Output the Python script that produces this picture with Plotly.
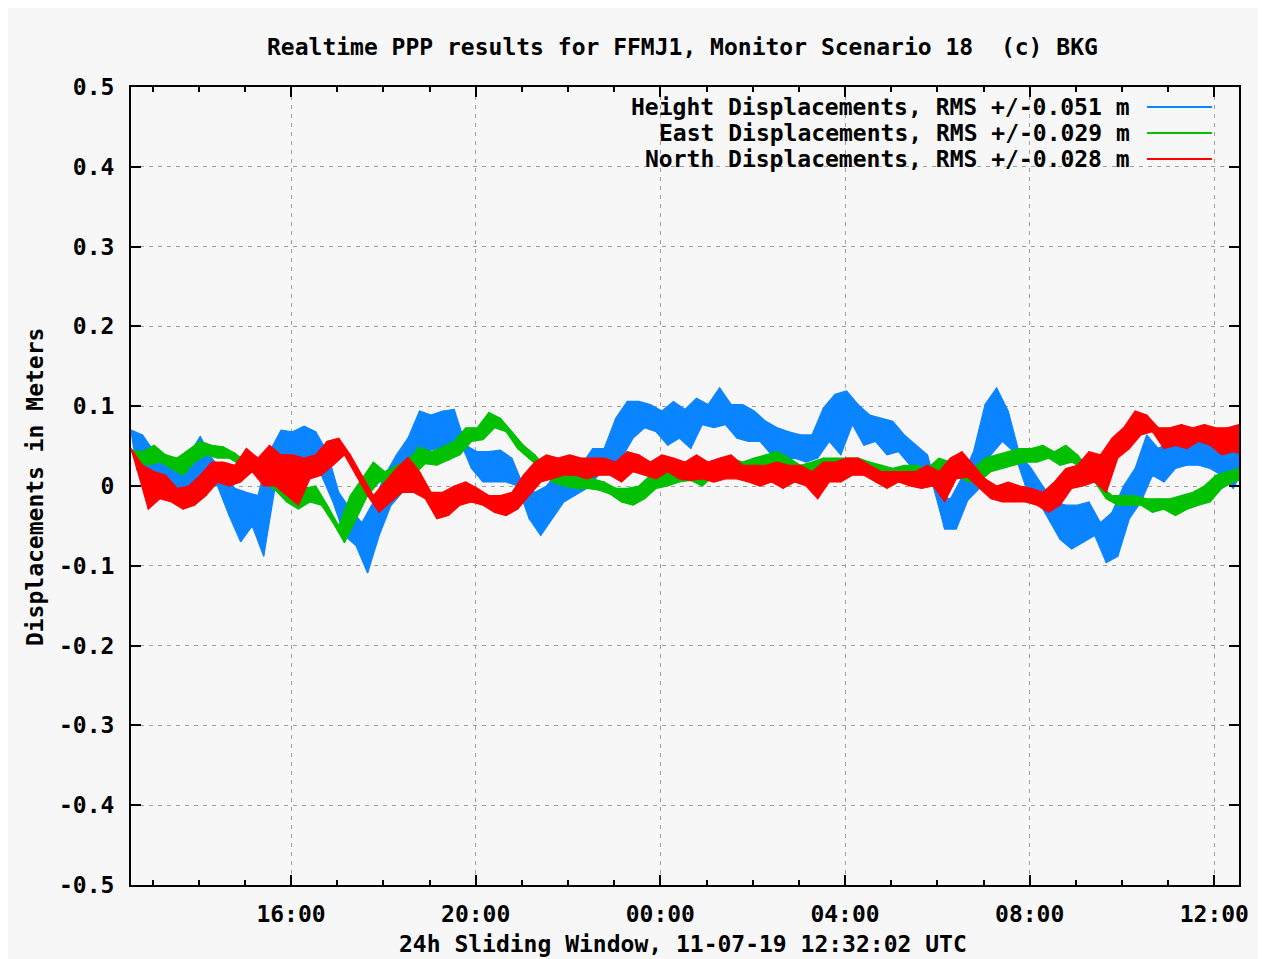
import pandas as pd
import plotly.graph_objects as go

# ---- data (15-minute steps, upper / lower envelope) ----
START = "2019-07-10 12:32:02"
END = "2019-07-11 12:32:02"
STEP = "15min"

H_HI = [0.070, 0.064, 0.043, 0.039, 0.030, 0.039, 0.062, 0.035, 0.018, -0.003, -0.008, -0.012, 0.043, 0.070, 0.068, 0.075, 0.068, 0.043, -0.008, -0.029, -0.046, -0.020, 0.0135, 0.039,
        0.060, 0.094, 0.089, 0.094, 0.096, 0.051, 0.043, 0.043, 0.045, 0.035, 0.000, -0.008, 0.000, 0.018, 0.018, 0.026, 0.047, 0.047, 0.085, 0.106, 0.106, 0.102, 0.094, 0.106,
        0.096, 0.110, 0.102, 0.123, 0.102, 0.102, 0.094, 0.081, 0.073, 0.068, 0.064, 0.064, 0.098, 0.115, 0.119, 0.102, 0.089, 0.085, 0.081, 0.064, 0.051, 0.039, -0.012, -0.016,
        0.011, 0.043, 0.102, 0.123, 0.094, 0.039, 0.022, 0.000, -0.020, -0.024, -0.024, -0.020, -0.046, -0.033, 0.000, 0.022, 0.064, 0.047, 0.056, 0.077, 0.064, 0.060, 0.043, 0.073,
        0.056]
H_LO = [0.020, 0.0135, 0.000, -0.003, -0.003, 0.000, 0.005, 0.000, -0.037, -0.070, -0.050, -0.088, 0.000, 0.018, 0.022, 0.022, 0.0135, -0.020, -0.062, -0.075, -0.109, -0.062, -0.025, -0.008,
        0.016, 0.043, 0.047, 0.051, 0.056, 0.022, 0.005, 0.005, 0.005, 0.000, -0.041, -0.062, -0.041, -0.020, -0.012, -0.003, 0.0135, 0.018, 0.035, 0.060, 0.073, 0.068, 0.051, 0.060,
        0.047, 0.077, 0.073, 0.077, 0.060, 0.056, 0.056, 0.039, 0.030, 0.035, 0.030, 0.035, 0.056, 0.039, 0.077, 0.051, 0.056, 0.039, 0.043, 0.026, 0.022, 0.000, -0.054, -0.054,
        -0.018, -0.003, 0.039, 0.056, 0.043, 0.000, -0.016, -0.041, -0.067, -0.079, -0.071, -0.062, -0.096, -0.088, -0.041, -0.020, 0.0135, 0.005, 0.022, 0.026, 0.026, 0.022, 0.0135, -0.003,
        0.026]
E_HI = [0.045, 0.043, 0.051, 0.039, 0.035, 0.045, 0.056, 0.051, 0.049, 0.041, 0.030, 0.026, 0.0135, 0.000, -0.003, -0.003, 0.000, -0.024, -0.050, -0.012, 0.009, 0.030, 0.018, 0.026,
        0.033, 0.049, 0.043, 0.049, 0.056, 0.073, 0.073, 0.092, 0.085, 0.068, 0.051, 0.039, 0.022, 0.018, 0.0135, 0.009, 0.009, 0.005, -0.003, -0.003, 0.000, 0.0135, 0.018, 0.026,
        0.024, 0.022, 0.026, 0.030, 0.035, 0.030, 0.035, 0.039, 0.043, 0.035, 0.026, 0.030, 0.035, 0.035, 0.035, 0.035, 0.030, 0.026, 0.022, 0.026, 0.026, 0.022, 0.035, 0.030,
        0.020, 0.022, 0.035, 0.039, 0.043, 0.047, 0.047, 0.051, 0.043, 0.051, 0.039, 0.022, 0.000, -0.012, -0.012, -0.012, -0.016, -0.016, -0.016, -0.012, -0.008, 0.000, 0.0135, 0.018,
        0.022]
E_LO = [0.030, 0.026, 0.030, 0.022, 0.0135, 0.030, 0.039, 0.035, 0.035, 0.026, 0.018, 0.005, -0.005, -0.020, -0.029, -0.020, -0.024, -0.046, -0.071, -0.041, -0.012, 0.005, 0.005, 0.005,
        0.0135, 0.028, 0.026, 0.032, 0.039, 0.056, 0.058, 0.073, 0.068, 0.047, 0.035, 0.022, 0.005, 0.000, -0.003, -0.003, -0.005, -0.010, -0.020, -0.024, -0.016, -0.003, 0.000, 0.005,
        0.007, 0.000, 0.0135, 0.0135, 0.018, 0.018, 0.018, 0.022, 0.026, 0.018, 0.0135, 0.018, 0.022, 0.018, 0.022, 0.018, 0.018, 0.0135, 0.009, 0.0135, 0.0135, 0.005, 0.018, 0.0135,
        0.005, 0.005, 0.018, 0.022, 0.026, 0.030, 0.030, 0.035, 0.026, 0.030, 0.022, 0.005, -0.016, -0.024, -0.024, -0.024, -0.033, -0.029, -0.037, -0.029, -0.024, -0.020, -0.003, 0.005,
        0.009]
N_HI = [0.047, 0.026, 0.018, 0.0135, -0.003, 0.000, 0.0135, 0.030, 0.030, 0.026, 0.047, 0.035, 0.051, 0.039, 0.039, 0.035, 0.039, 0.056, 0.060, 0.039, 0.0135, -0.012, 0.005, 0.022,
        0.036, 0.018, -0.008, -0.008, 0.000, 0.005, -0.003, -0.012, -0.012, -0.008, 0.0135, 0.030, 0.039, 0.035, 0.039, 0.035, 0.035, 0.035, 0.030, 0.043, 0.039, 0.030, 0.039, 0.035,
        0.030, 0.039, 0.030, 0.035, 0.039, 0.026, 0.026, 0.026, 0.030, 0.026, 0.026, 0.018, 0.030, 0.030, 0.035, 0.035, 0.026, 0.018, 0.018, 0.018, 0.018, 0.026, 0.018, 0.035,
        0.043, 0.026, 0.009, 0.000, 0.005, 0.000, -0.003, -0.008, 0.005, 0.022, 0.026, 0.043, 0.039, 0.060, 0.073, 0.094, 0.089, 0.073, 0.073, 0.077, 0.073, 0.077, 0.073, 0.073,
        0.077]
N_LO = [0.022, -0.029, -0.016, -0.020, -0.029, -0.024, -0.012, 0.005, 0.000, 0.005, 0.018, 0.000, 0.000, -0.012, -0.024, 0.009, 0.0135, 0.026, 0.039, 0.0135, -0.012, -0.033, -0.020, -0.008,
        -0.008, -0.016, -0.041, -0.037, -0.024, -0.020, -0.024, -0.033, -0.037, -0.029, -0.012, 0.005, 0.009, 0.0135, 0.0135, 0.009, 0.0135, 0.0135, 0.005, 0.018, 0.0135, 0.009, 0.018, 0.009,
        0.007, 0.009, 0.005, 0.009, 0.009, 0.005, 0.000, 0.005, -0.003, 0.005, 0.000, -0.016, 0.005, 0.005, 0.0135, 0.0135, 0.005, -0.003, 0.005, 0.000, -0.003, 0.000, -0.020, 0.009,
        0.011, -0.003, -0.016, -0.020, -0.020, -0.020, -0.024, -0.033, -0.024, -0.003, 0.000, 0.005, -0.008, 0.035, 0.047, 0.064, 0.068, 0.047, 0.051, 0.047, 0.056, 0.051, 0.039, 0.043,
        0.039]

SERIES_NAMES = ["Height Displacements, RMS +/-0.051 m",
                "East Displacements, RMS +/-0.029 m",
                "North Displacements, RMS +/-0.028 m"]
SERIES_COLORS = ["#0a84ff", "#00c000", "#ff0000"]

Y_TICKS = [0.5, 0.4, 0.3, 0.2, 0.1, 0, -0.1, -0.2, -0.3, -0.4, -0.5]
Y_TICK_TEXT = ["0.5", "0.4", "0.3", "0.2", "0.1", "0", "-0.1", "-0.2", "-0.3", "-0.4", "-0.5"]

TITLE = "Realtime PPP results for FFMJ1, Monitor Scenario 18  (c) BKG"
X_TITLE = "24h Sliding Window, 11-07-19 12:32:02 UTC"
Y_TITLE = "Displacements in Meters"

for arr in (H_HI, H_LO, E_HI, E_LO, N_HI, N_LO):
    assert len(arr) == 97, len(arr)

times = list(pd.date_range(START, periods=97, freq=STEP))
half = pd.Timedelta(STEP) / 2

FONT = "DejaVu Sans Mono"
FS = 23
fig = go.Figure()
for (hi, lo), name, col in zip([(H_HI, H_LO), (E_HI, E_LO), (N_HI, N_LO)], SERIES_NAMES, SERIES_COLORS):
    # envelope band: upper envelope forward, lower envelope back (offset half a step)
    xs = times + [t + half for t in reversed(times)]
    ys = list(hi) + list(reversed(lo))
    fig.add_trace(go.Scatter(x=xs, y=ys, mode="lines", name=name, fill="toself",
                             fillcolor=col, line=dict(color=col, width=1.2),
                             showlegend=False, hoverinfo="skip"))
    # jagged trace between the envelopes
    zx, zy = [], []
    for t, a, b in zip(times, hi, lo):
        zx += [t, t + half]
        zy += [a, b]
    fig.add_trace(go.Scatter(x=zx, y=zy, mode="lines", name=name,
                             line=dict(color=col, width=1.2), showlegend=False,
                             hoverinfo="skip"))

# ---- gnuplot-like key: text right-aligned, sample line on the right ----
key_y = [0.975, 0.9424, 0.9098]
for name, col, ky in zip(SERIES_NAMES, SERIES_COLORS, key_y):
    fig.add_annotation(x=0.9034, y=ky, xref="paper", yref="paper", text=name,
                       showarrow=False, xanchor="right", yanchor="middle",
                       font=dict(family=FONT, size=FS, color="black", weight="bold"))
    fig.add_shape(type="line", xref="paper", yref="paper", x0=0.917, x1=0.9756,
                  y0=ky, y1=ky, line=dict(color=col, width=2))

fig.add_annotation(x=0.4977, y=1.050, xref="paper", yref="paper", text=TITLE,
                   showarrow=False, xanchor="center", yanchor="middle",
                   font=dict(family=FONT, size=FS, color="black", weight="bold"))
fig.add_annotation(x=0.498, y=-0.0745, xref="paper", yref="paper", text=X_TITLE,
                   showarrow=False, xanchor="center", yanchor="middle",
                   font=dict(family=FONT, size=FS, color="black", weight="bold"))
fig.add_annotation(x=-0.0866, y=0.4987, xref="paper", yref="paper", text=Y_TITLE,
                   showarrow=False, xanchor="center", yanchor="middle", textangle=-90,
                   font=dict(family=FONT, size=FS, color="black", weight="bold"))

fig.update_layout(
    width=1266, height=951,
    margin=dict(l=123, r=35, t=79, b=74),
    paper_bgcolor="#f7f7f7", plot_bgcolor="#f7f7f7",
    font=dict(family=FONT, size=FS, color="black", weight="bold"),
    showlegend=False,
)
fig.update_xaxes(
    type="date", range=[START, END],
    tick0="2019-07-10 00:00:00", dtick=4 * 3600 * 1000, tickformat="%H:%M",
    ticks="inside", ticklen=10, tickwidth=1.5, tickcolor="black",
    showline=True, linecolor="black", linewidth=2, mirror="allticks",
    showgrid=True, gridcolor="#a0a0a0", gridwidth=1, griddash="4px,5px",
    zeroline=False, ticklabelstandoff=7,
    minor=dict(dtick=3600 * 1000, tick0="2019-07-10 00:00:00", ticks="inside",
               ticklen=5, tickwidth=1.5, tickcolor="black", showgrid=False),
    tickfont=dict(family=FONT, size=FS, color="black", weight="bold"),
)
fig.update_yaxes(
    range=[-0.5, 0.5], tickvals=Y_TICKS, ticktext=Y_TICK_TEXT,
    ticks="inside", ticklen=10, tickwidth=1.5, tickcolor="black",
    showline=True, linecolor="black", linewidth=2, mirror="allticks",
    showgrid=True, gridcolor="#a0a0a0", gridwidth=1, griddash="4px,5px",
    zeroline=False, ticklabelstandoff=10,
    tickfont=dict(family=FONT, size=FS, color="black", weight="bold"),
)

fig.write_html("out.html")
